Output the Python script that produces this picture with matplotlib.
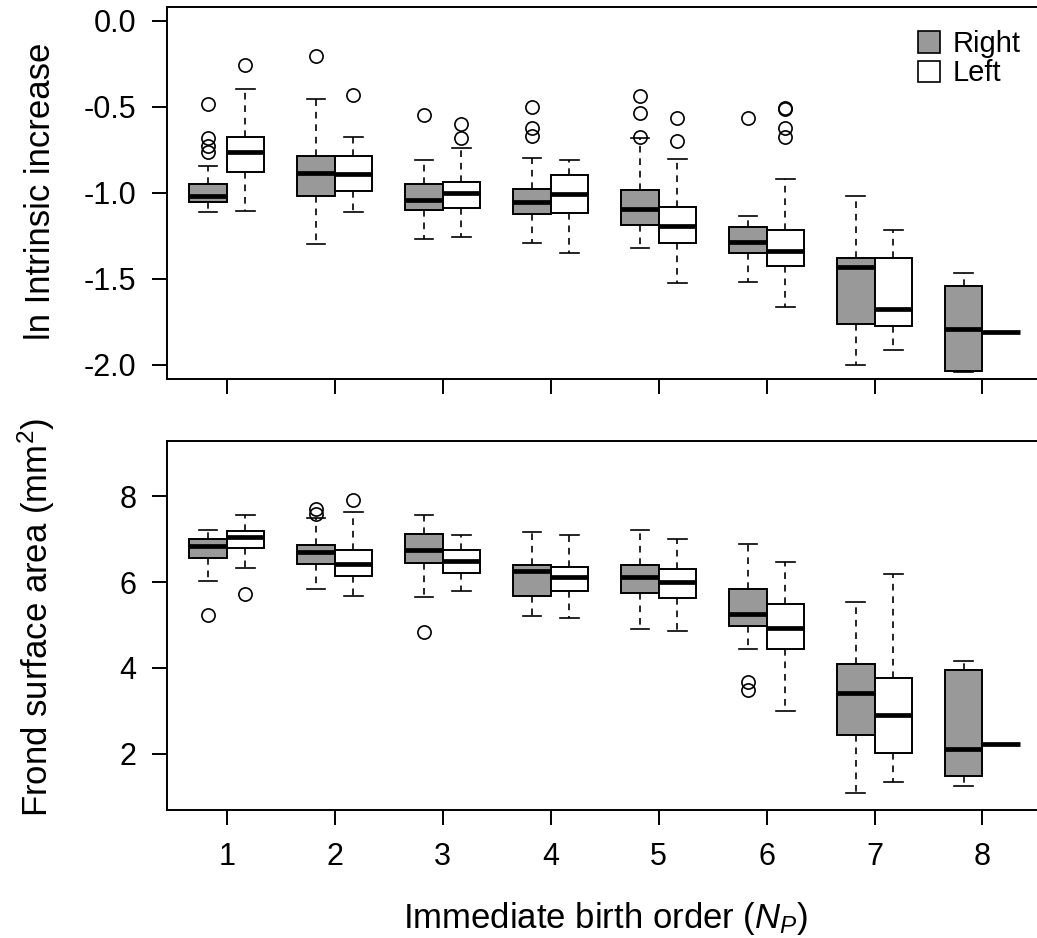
import matplotlib
matplotlib.use('Agg')
import matplotlib.pyplot as plt
from matplotlib.patches import Patch
from matplotlib.ticker import FormatStrFormatter

plt.rcParams['font.family'] = ['Liberation Sans', 'DejaVu Sans']
plt.rcParams['mathtext.fontset'] = 'custom'
plt.rcParams['mathtext.rm'] = 'Liberation Sans'
plt.rcParams['mathtext.it'] = 'Liberation Sans:italic'
plt.rcParams['axes.unicode_minus'] = False

groups = [1, 2, 3, 4, 5, 6, 7, 8]

# ln intrinsic increase, Right
top_right_lo = [-1.114, -1.300, -1.271, -1.291, -1.320, -1.518, -2.002, -2.040]
top_right_q1 = [-1.056, -1.019, -1.102, -1.126, -1.188, -1.351, -1.765, -2.037]
top_right_med = [-1.017, -0.885, -1.041, -1.052, -1.097, -1.285, -1.434, -1.791]
top_right_q3 = [-0.951, -0.789, -0.948, -0.980, -0.984, -1.199, -1.380, -1.541]
top_right_hi = [-0.843, -0.455, -0.812, -0.797, -0.680, -1.135, -1.017, -1.467]
top_right_out = [[-0.486, -0.684, -0.727, -0.762], [-0.205], [-0.548],
                 [-0.500, -0.626, -0.670], [-0.438, -0.539, -0.674], [-0.564], [], []]

# ln intrinsic increase, Left
top_left_lo = [-1.106, -1.114, -1.258, -1.353, -1.527, -1.667, -1.913, -1.808]
top_left_q1 = [-0.878, -0.988, -1.089, -1.116, -1.291, -1.428, -1.773, -1.808]
top_left_med = [-0.765, -0.889, -1.002, -1.008, -1.192, -1.341, -1.678, -1.808]
top_left_q3 = [-0.676, -0.785, -0.936, -0.895, -1.085, -1.217, -1.378, -1.808]
top_left_hi = [-0.397, -0.676, -0.742, -0.808, -0.806, -0.920, -1.215, -1.808]
top_left_out = [[-0.258], [-0.430], [-0.602, -0.684], [], [-0.567, -0.698],
                [-0.509, -0.515, -0.626, -0.674], [], []]

# frond surface area, Right
bot_right_lo = [6.02, 5.84, 5.66, 5.21, 4.91, 4.43, 1.08, 1.26]
bot_right_q1 = [6.56, 6.43, 6.44, 5.67, 5.74, 4.97, 2.43, 1.47]
bot_right_med = [6.83, 6.70, 6.75, 6.25, 6.13, 5.26, 3.42, 2.12]
bot_right_q3 = [7.01, 6.87, 7.12, 6.40, 6.40, 5.84, 4.10, 3.95]
bot_right_hi = [7.22, 7.50, 7.57, 7.17, 7.21, 6.88, 5.53, 4.17]
bot_right_out = [[5.23], [7.71, 7.58], [4.84], [], [], [3.67, 3.49], [], []]

# frond surface area, Left
bot_left_lo = [6.32, 5.67, 5.79, 5.17, 4.86, 2.99, 1.33, 2.23]
bot_left_q1 = [6.80, 6.15, 6.22, 5.80, 5.63, 4.44, 2.02, 2.23]
bot_left_med = [7.06, 6.41, 6.50, 6.13, 6.00, 4.94, 2.91, 2.23]
bot_left_q3 = [7.20, 6.74, 6.75, 6.35, 6.31, 5.49, 3.77, 2.23]
bot_left_hi = [7.56, 7.64, 7.09, 7.09, 7.00, 6.46, 6.19, 2.23]
bot_left_out = [[5.73], [7.91], [], [], [], [], [], []]

grey = '#999999'
bw = 0.346


def draw(ax, offset, lo, q1, med, q3, hi, out, color):
    stats = []
    for i in range(len(groups)):
        stats.append(dict(whislo=lo[i], q1=q1[i], med=med[i], q3=q3[i],
                          whishi=hi[i], fliers=out[i]))
    pos = [g + offset for g in groups]
    ax.bxp(stats, positions=pos, widths=bw, patch_artist=True, manage_ticks=False,
           boxprops=dict(facecolor=color, edgecolor='black', linewidth=1.4),
           medianprops=dict(color='black', linewidth=3.4, solid_capstyle='butt'),
           whiskerprops=dict(color='black', linewidth=1.2, linestyle=(0, (4, 3.5))),
           capprops=dict(color='black', linewidth=1.2),
           flierprops=dict(marker='o', markerfacecolor='none', markeredgecolor='black',
                           markersize=9.5, markeredgewidth=1.2))


fig = plt.figure(figsize=(10.37, 9.38), dpi=100)
ax1 = fig.add_axes([0.161, 0.596, 0.844, 0.3966])
ax2 = fig.add_axes([0.161, 0.1365, 0.844, 0.393])

draw(ax1, -bw / 2, top_right_lo, top_right_q1, top_right_med, top_right_q3, top_right_hi, top_right_out, grey)
draw(ax1, bw / 2, top_left_lo, top_left_q1, top_left_med, top_left_q3, top_left_hi, top_left_out, 'white')
draw(ax2, -bw / 2, bot_right_lo, bot_right_q1, bot_right_med, bot_right_q3, bot_right_hi, bot_right_out, grey)
draw(ax2, bw / 2, bot_left_lo, bot_left_q1, bot_left_med, bot_left_q3, bot_left_hi, bot_left_out, 'white')

for ax in (ax1, ax2):
    ax.set_xlim(0.447, 8.553)
    ax.set_xticks(groups)
    for s in ax.spines.values():
        s.set_linewidth(1.4)
    ax.tick_params(direction='out', length=11, width=1.4, labelsize=22)
    ax.tick_params(axis='y', pad=11)
    ax.tick_params(axis='x', pad=12)

ax1.set_ylim(-2.083, 0.08)
ax1.set_yticks([0.0, -0.5, -1.0, -1.5, -2.0])
ax1.yaxis.set_major_formatter(FormatStrFormatter('%.1f'))
ax1.tick_params(axis='x', labelbottom=False)

ax2.set_ylim(0.69, 9.28)
ax2.set_yticks([2, 4, 6, 8])

fig.text(57 / 1037, 1 - 191 / 938, 'ln Intrinsic increase', rotation=90,
         ha='right', va='center', fontsize=25)
fig.text(57 / 1037, 1 - 617 / 938, 'Frond surface area (mm$^2$)', rotation=90,
         ha='right', va='center', fontsize=25)
fig.text(403 / 1037, 1 - 928 / 938, 'Immediate birth order ($\\mathit{N}_{\\mathit{P}}$)',
         ha='left', va='baseline', fontsize=25)

handles = [Patch(facecolor=grey, edgecolor='black', linewidth=1.2),
           Patch(facecolor='white', edgecolor='black', linewidth=1.2)]
fig.legend(handles, ['Right', 'Left'], loc='upper left',
           bbox_to_anchor=(918 / 1037, 1 - 30 / 938), frameon=False, fontsize=21,
           handlelength=0.75, handleheight=0.75, handletextpad=0.45,
           labelspacing=0.05, borderpad=0, borderaxespad=0)

fig.savefig('out.png', dpi=100)
